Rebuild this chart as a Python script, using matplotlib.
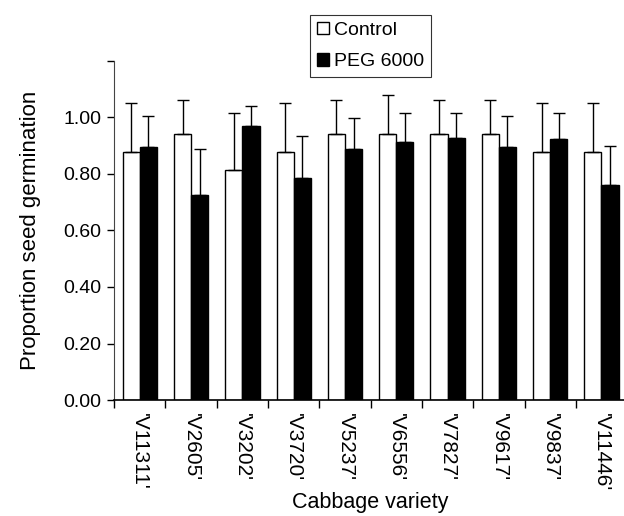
import numpy as np
import matplotlib
matplotlib.use('Agg')
import matplotlib.pyplot as plt

plt.rcParams['font.family'] = ['Liberation Sans', 'DejaVu Sans']

varieties = ["'V11311'", "'V2605'", "'V3202'", "'V3720'", "'V5237'",
             "'V6556'", "'V7827'", "'V9617'", "'V9837'", "'V11446'"]
control = [0.877, 0.940, 0.813, 0.877, 0.940, 0.940, 0.940, 0.940, 0.877, 0.877]
control_err = [0.173, 0.122, 0.204, 0.173, 0.122, 0.140, 0.122, 0.122, 0.173, 0.173]
peg = [0.896, 0.725, 0.971, 0.785, 0.890, 0.912, 0.927, 0.896, 0.923, 0.762]
peg_err = [0.109, 0.163, 0.071, 0.151, 0.109, 0.105, 0.090, 0.109, 0.094, 0.137]
y_ticks = [0.0, 0.2, 0.4, 0.6, 0.8, 1.0]

fig = plt.figure(figsize=(6.24, 5.16), dpi=100)
ax = fig.add_axes([0.183, 0.2248, 0.822, 0.657])

x = np.arange(len(varieties))
w = 0.335
ax.bar(x - w / 2, control, w, color='white', edgecolor='black', linewidth=1,
       yerr=[np.zeros(len(control)), control_err], capsize=4.5,
       error_kw=dict(elinewidth=1, capthick=1, ecolor='black'), label='Control', zorder=2)
ax.bar(x + w / 2, peg, w, color='black', edgecolor='black', linewidth=1,
       yerr=[np.zeros(len(peg)), peg_err], capsize=4.5,
       error_kw=dict(elinewidth=1, capthick=1, ecolor='black'), label='PEG 6000', zorder=2)

ax.set_xlim(-0.5, len(varieties) - 0.5)
ax.set_ylim(0, 1.2)
ax.set_yticks(y_ticks + [1.2])
ax.set_yticklabels(['%.2f' % v for v in y_ticks] + [''])
ax.set_xticks(x)
ax.set_xticklabels(varieties, rotation=270, fontsize=15)
ax.set_xticks(np.arange(len(varieties) + 1) - 0.5, minor=True)
ax.tick_params(axis='x', which='major', length=0, pad=9)
ax.tick_params(axis='x', which='minor', length=6, width=1, direction='out')
ax.tick_params(axis='y', length=5, width=1, labelsize=14, pad=4)

for s in ['top', 'right']:
    ax.spines[s].set_visible(False)
ax.spines['left'].set_color('#444444')
ax.spines['bottom'].set_linewidth(1.2)

ax.set_ylabel('Proportion seed germination', fontsize=16, labelpad=16)
ax.set_xlabel('Cabbage variety', fontsize=15.5)
ax.xaxis.set_label_coords(0.5, -0.27)

leg = ax.legend(loc='upper center', bbox_to_anchor=(0.5, 1.136), fontsize=14,
                frameon=True, fancybox=False, edgecolor='black', handlelength=0.6,
                handleheight=0.6, handletextpad=0.3, borderpad=0.35, labelspacing=0.75,
                borderaxespad=0)
leg.get_frame().set_linewidth(0.8)

fig.savefig('out.png', dpi=100)
